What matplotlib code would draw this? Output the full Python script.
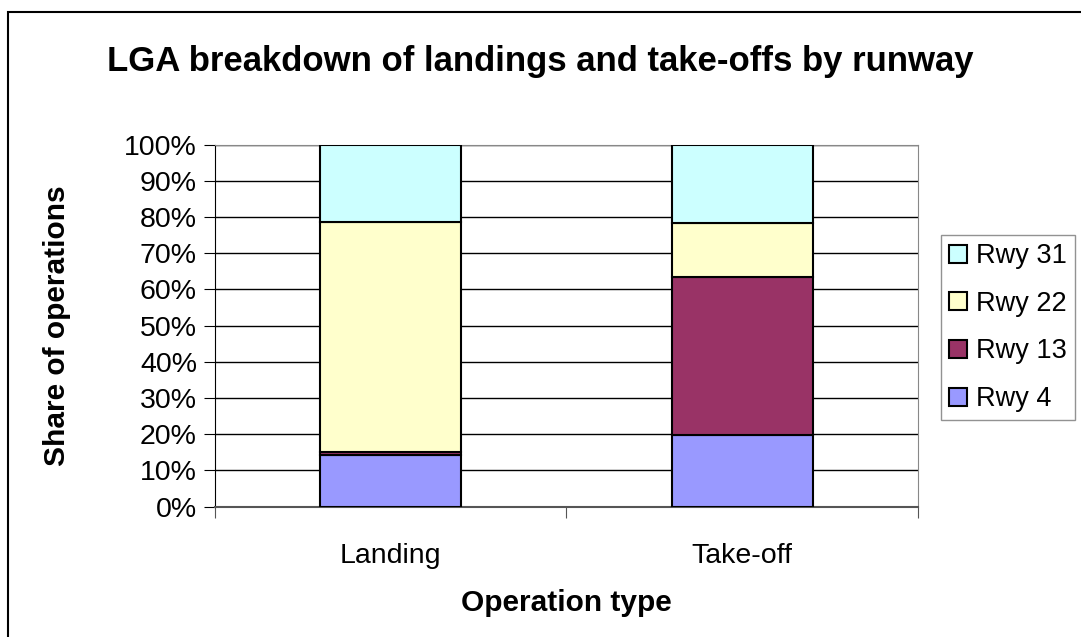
import matplotlib.pyplot as plt
from matplotlib.patches import Rectangle
from matplotlib.ticker import MultipleLocator, PercentFormatter

plt.rcParams['font.family'] = ['Liberation Sans', 'DejaVu Sans']

# share of operations per runway (percent)
operations = ['Landing', 'Take-off']
runways = ['Rwy 4', 'Rwy 13', 'Rwy 22', 'Rwy 31']
rwy4 = [14.2, 19.7]
rwy13 = [1.0, 43.7]
rwy22 = [63.4, 15.0]
rwy31 = [21.4, 21.6]
colors = ['#9999FF', '#993366', '#FFFFCC', '#CCFFFF']

fig = plt.figure(figsize=(10.81, 6.37), dpi=100)
ax = fig.add_axes([0.1989, 0.2046, 0.6503, 0.5683])

# outer chart frame
fig.patches.append(Rectangle((8 / 1081, -0.1), 1.2, (637 - 12) / 637 + 0.1,
                             transform=fig.transFigure, fill=False,
                             edgecolor='black', linewidth=1.5))

x = list(range(len(operations)))
bottom = [0.0, 0.0]
for name, vals, c in zip(runways, [rwy4, rwy13, rwy22, rwy31], colors):
    ax.bar(x, vals, width=0.4, bottom=bottom, color=c,
           edgecolor='black', linewidth=1.5, label=name, zorder=3)
    bottom = [p + v for p, v in zip(bottom, vals)]

ax.set_xlim(-0.5, 1.5)
ax.set_ylim(0, 100)
ax.yaxis.set_major_locator(MultipleLocator(10))
ax.yaxis.set_major_formatter(PercentFormatter(decimals=0))
ax.grid(axis='y', color='black', linewidth=1.0, zorder=0)

ax.set_xticks([-0.5, 0.5, 1.5])
ax.set_xticklabels([])
ax.set_xticks(x, minor=True)
ax.set_xticklabels(operations, minor=True)
ax.tick_params(axis='x', which='minor', length=0, pad=26, labelsize=20.5)
ax.tick_params(axis='x', which='major', length=8, direction='out', color='#555555')
ax.tick_params(axis='y', length=8, direction='out', labelsize=20.5, pad=5)

for side in ['top', 'right']:
    ax.spines[side].set_color('#888888')
ax.spines['bottom'].set_color('#555555')
ax.spines['left'].set_color('black')
ax.spines['bottom'].set_linewidth(1.5)

ax.set_xlabel('Operation type', fontsize=21.5, fontweight='bold')
ax.xaxis.set_label_coords(0.5, -0.228)
ax.set_ylabel('Share of operations', fontsize=21.5, fontweight='bold')
ax.yaxis.set_label_coords(-0.205, 0.5)
fig.text(0.5, 1 - 62 / 637, 'LGA breakdown of landings and take-offs by runway',
         ha='center', va='center', fontsize=25, fontweight='bold')

handles, labels = ax.get_legend_handles_labels()
leg = fig.legend(handles[::-1], labels[::-1], loc='upper left',
                 bbox_to_anchor=(941 / 1081, 1 - 235 / 637),
                 fontsize=19.5, frameon=True, fancybox=False,
                 edgecolor='#777777', handlelength=0.65, handleheight=0.65,
                 handletextpad=0.35, labelspacing=0.8, borderpad=0.3,
                 borderaxespad=0)
leg.get_frame().set_linewidth(1.0)

fig.savefig('out.png', dpi=100)
